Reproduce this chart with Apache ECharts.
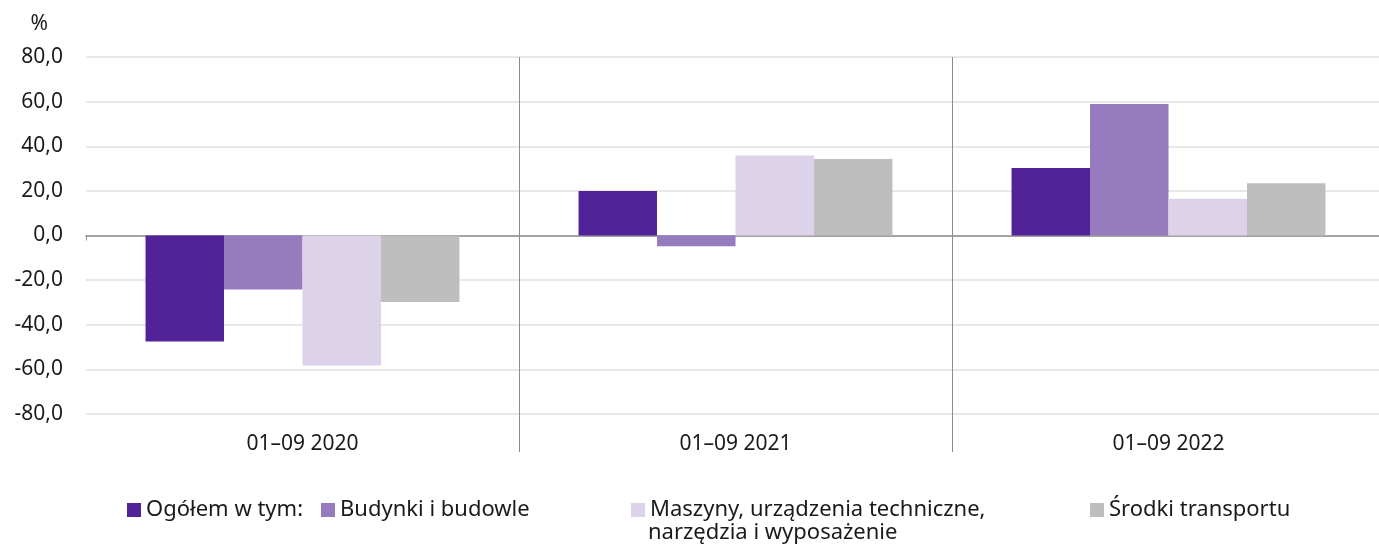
<!DOCTYPE html>
<html><head><meta charset="utf-8">
<script src="https://cdn.jsdelivr.net/npm/echarts@6/dist/echarts.min.js"></script>
<style>html,body{margin:0;padding:0;background:#fff}#c{width:1379px;height:546px}</style>
</head><body><div id="c"></div>
<script>
var categories = ['01–09 2020', '01–09 2021', '01–09 2022'];
var seriesNames = ['Ogółem w tym:', 'Budynki i budowle', 'Maszyny, urządzenia techniczne, narzędzia i wyposażenie', 'Środki transportu'];
var legendLine1 = 'Maszyny, urządzenia techniczne,';
var legendLine2 = 'narzędzia i wyposażenie';
var ogolem = [-47.5, 20.0, 30.2];
var budynki = [-24.2, -4.8, 58.9];
var maszyny = [-58.3, 35.9, 16.5];
var srodki = [-29.8, 34.3, 23.4];
var yTicks = [-80, -60, -40, -20, 0, 20, 40, 60, 80];

var colors = ['#522398', '#967BBF', '#DCD3EA', '#BEBEBE'];
var FONT = 'Noto Sans';
var TXT = '#1a1a1a';
var values = [ogolem, budynki, maszyny, srodki];

var chart = echarts.init(document.getElementById('c'));
var series = seriesNames.map(function (n, i) {
  return {
    name: n, type: 'bar', data: values[i], xAxisIndex: 0,
    barGap: '0%', barCategoryGap: '27.5%',
    itemStyle: { color: colors[i] }
  };
});
function legendAt(i, left, fmt) {
  var l = {
    data: [seriesNames[i]], left: left, top: 494, orient: 'horizontal',
    itemWidth: 14, itemHeight: 14, itemGap: 6, icon: 'rect', selectedMode: false,
    textStyle: { fontFamily: FONT, fontSize: 22, color: TXT }
  };
  if (fmt) l.formatter = fmt;
  return l;
}
var option = {
  animation: false,
  color: colors,
  grid: { left: 86, top: 57, width: 1299, height: 357, outerBoundsMode: 'none', containLabel: false },
  title: {
    text: legendLine2, left: 648, top: 522, padding: 0,
    textStyle: { fontFamily: FONT, fontSize: 22, color: TXT, fontWeight: 'normal' }
  },
  legend: [
    legendAt(0, 122),
    legendAt(1, 316),
    legendAt(2, 626, function () { return legendLine1; }),
    legendAt(3, 1085)
  ],
  xAxis: [
    {
      type: 'category', data: categories, position: 'bottom',
      axisLine: { show: false, onZero: false },
      axisTick: { show: true, length: 38, lineStyle: { color: '#8c8c8c', width: 1 },
        interval: function (i) { return i > 0; } },
      splitLine: { show: true, lineStyle: { color: '#8c8c8c', width: 1 },
        interval: function (i) { return i > 0; } },
      axisLabel: { margin: 20, fontFamily: FONT, fontSize: 21, color: TXT }
    },
    {
      type: 'category', data: categories, position: 'bottom',
      axisLine: { show: true, onZero: true, lineStyle: { color: '#8c8c8c', width: 1.5 } },
      axisTick: { show: true, length: 5, lineStyle: { color: '#8c8c8c', width: 1 } },
      axisLabel: { show: false },
      splitLine: { show: false }
    }
  ],
  yAxis: {
    type: 'value', min: -80, max: 80, interval: 20,
    name: '%', nameLocation: 'end', nameGap: 22,
    nameTextStyle: { fontFamily: FONT, fontSize: 21, color: TXT, align: 'right', padding: [0, 38, 0, 0] },
    axisLine: { show: false }, axisTick: { show: false },
    axisLabel: { margin: 23, fontFamily: FONT, fontSize: 21, color: TXT,
      formatter: function (v) { return yTicks.indexOf(v) >= 0 ? v.toFixed(1).replace('.', ',') : ''; } },
    splitLine: { lineStyle: { color: '#e0e0e0', width: 1.5 } }
  },
  series: series
};
chart.setOption(option);
</script></body></html>
